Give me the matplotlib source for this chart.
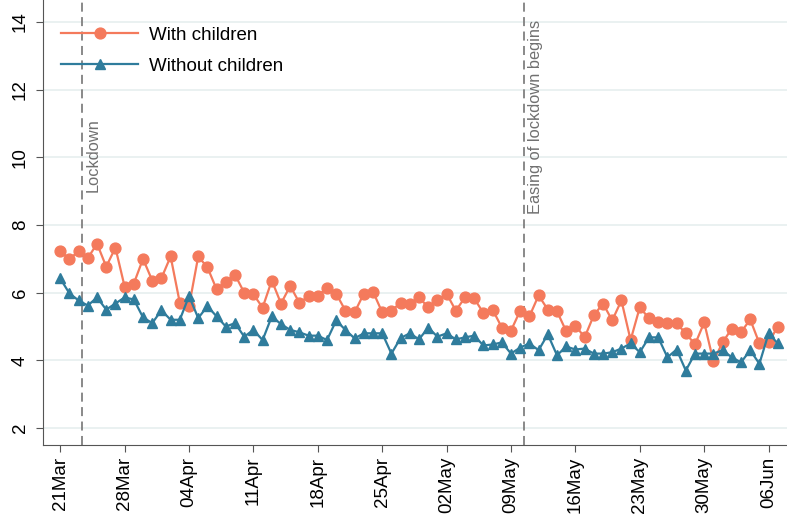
import matplotlib
matplotlib.use("Agg")
import matplotlib.pyplot as plt
import matplotlib.dates as mdates
import pandas as pd

plt.rcParams['font.family'] = ['Liberation Sans', 'DejaVu Sans']

dates = pd.date_range("2020-03-21", periods=79, freq="D")

with_children = [
    7.22, 7.00, 7.22, 7.02, 7.45, 6.77, 7.33, 6.18, 6.27, 7.00,
    6.36, 6.43, 7.07, 5.70, 5.60, 7.07, 6.75, 6.10, 6.33, 6.53,
    6.00, 5.95, 5.56, 6.36, 5.68, 6.20, 5.70, 5.90, 5.90, 6.15,
    5.97, 5.47, 5.42, 5.97, 6.03, 5.42, 5.47, 5.70, 5.68, 5.86,
    5.57, 5.77, 5.97, 5.47, 5.86, 5.83, 5.40, 5.50, 4.97, 4.88,
    5.47, 5.30, 5.92, 5.50, 5.45, 4.86, 5.03, 4.68, 5.33, 5.68,
    5.18, 5.77, 4.60, 5.57, 5.24, 5.12, 5.09, 5.09, 4.80, 4.47,
    5.12, 3.97, 4.53, 4.94, 4.83, 5.21, 4.50, 4.53, 5.00,
]
without_children = [
    6.42, 5.98, 5.77, 5.62, 5.86, 5.50, 5.68, 5.86, 5.80, 5.27,
    5.10, 5.48, 5.20, 5.20, 5.90, 5.25, 5.60, 5.30, 5.00, 5.10,
    4.70, 4.90, 4.60, 5.30, 5.07, 4.90, 4.83, 4.73, 4.73, 4.60,
    5.18, 4.90, 4.65, 4.80, 4.80, 4.80, 4.20, 4.66, 4.80, 4.62,
    4.97, 4.70, 4.80, 4.62, 4.68, 4.73, 4.44, 4.47, 4.53, 4.20,
    4.38, 4.50, 4.30, 4.77, 4.15, 4.41, 4.32, 4.35, 4.20, 4.20,
    4.24, 4.35, 4.50, 4.24, 4.68, 4.68, 4.09, 4.32, 3.70, 4.20,
    4.20, 4.20, 4.30, 4.09, 3.94, 4.30, 3.90, 4.80, 4.50,
]

lockdown = pd.Timestamp("2020-03-23 08:00")
easing = pd.Timestamp("2020-05-10 11:00")

orange = "#f47a5c"
blue = "#2f7c9c"

fig = plt.figure(figsize=(7.87, 5.18), dpi=100)
ax = fig.add_axes([0.0546, 0.141, 0.9454, 0.859])

ax.grid(axis="y", color="#e6efef", linewidth=1.2)
ax.set_axisbelow(True)

ax.plot(dates, with_children, "-o", color=orange, lw=1.6, ms=7.8,
        label="With children")
ax.plot(dates, without_children, "-^", color=blue, lw=1.6, ms=7.8,
        label="Without children")

for d, txt, ytop in [(lockdown, "Lockdown", 11.15), (easing, "Easing of lockdown begins", 14.05)]:
    ax.axvline(d, color="#808080", ls=(0, (5, 3)), lw=1.3, zorder=1)
    ax.text(d + pd.Timedelta(hours=10), ytop, txt, rotation=90, ha="left", va="top",
            color="#707070", fontsize=11.8)

ax.set_ylim(1.5, 14.65)
ax.set_yticks([2, 4, 6, 8, 10, 12, 14])
ax.set_xlim(pd.Timestamp("2020-03-19 03:00"), pd.Timestamp("2020-06-08 00:00"))
ax.set_xticks(pd.date_range("2020-03-21", "2020-06-06", freq="7D"))
ax.xaxis.set_major_formatter(mdates.DateFormatter("%d%b"))

ax.tick_params(axis="x", labelrotation=90, labelsize=13.5, length=5, color="#555555")
ax.tick_params(axis="y", labelrotation=90, labelsize=13.5, length=5, pad=5, color="#555555")
for lab in ax.get_yticklabels():
    lab.set_va("center")

for s in ["top", "right"]:
    ax.spines[s].set_visible(False)
for s in ["left", "bottom"]:
    ax.spines[s].set_color("#555555")

ax.legend(loc="upper left", bbox_to_anchor=(0.002, 0.978), frameon=False,
          fontsize=13.5, handlelength=4.1, labelspacing=0.75, handletextpad=0.55)

fig.savefig("out.png", dpi=100)
